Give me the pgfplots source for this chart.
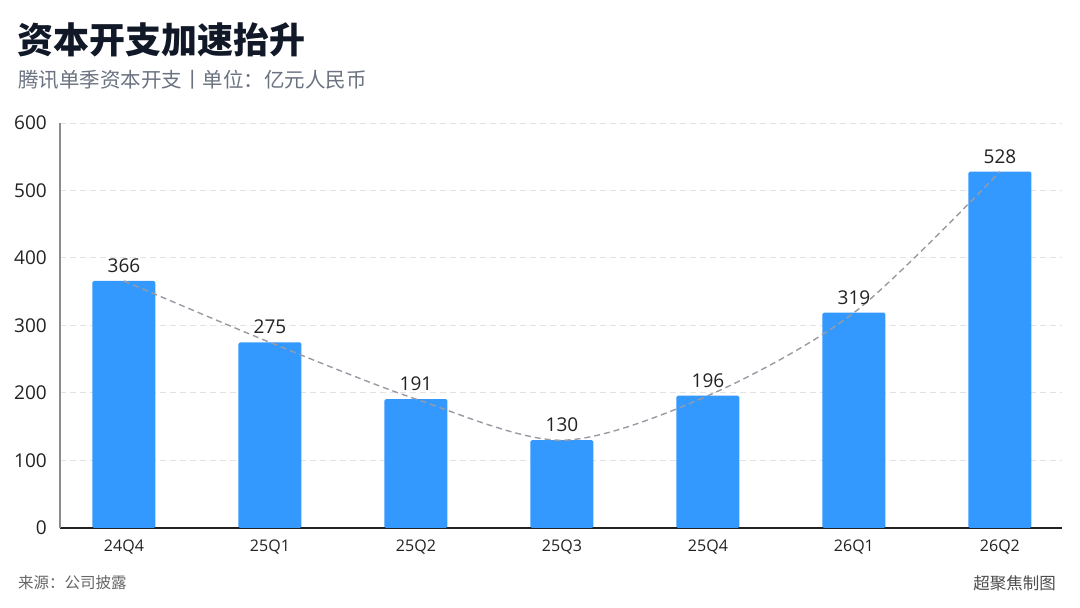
\documentclass[border=0pt]{standalone}
\usepackage{fontspec}
\setmainfont{Open Sans}
\newfontfamily\cjk{Noto Sans CJK SC}
\usepackage{pgfplots}
\pgfplotsset{compat=1.18}
\definecolor{barc}{HTML}{3399FF}
\definecolor{titlec}{HTML}{111827}
\definecolor{subc}{HTML}{6B7280}
\definecolor{footc}{HTML}{666666}
\definecolor{gridc}{HTML}{E3E3E3}
\definecolor{dashc}{HTML}{9A9AA4}
\definecolor{txtc}{HTML}{222222}
\begin{document}
\begin{tikzpicture}
\path[use as bounding box, fill=white] (0,0) rectangle (1080pt,608pt);
\node[anchor=west, text=titlec, font=\cjk\bfseries\fontsize{36}{40}\selectfont, inner sep=0] at (17pt,568pt) {资本开支加速抬升};
\node[anchor=west, text=subc, font=\cjk\fontsize{20.5}{24}\selectfont, inner sep=0] at (18pt,528pt) {腾讯单季资本开支丨单位：亿元人民币};
\node[anchor=west, text=footc, font=\cjk\fontsize{15.5}{18}\selectfont, inner sep=0] at (18pt,25pt) {来源：公司披露};
\node[anchor=east, text=txtc!80, font=\cjk\fontsize{16.5}{18}\selectfont, inner sep=0] at (1056pt,25pt) {超聚焦制图};
\begin{axis}[
  at={(60pt,80pt)}, anchor=south west,
  scale only axis, width=1002pt, height=405pt,
  xmin=-0.438, xmax=6.425, ymin=0, ymax=600,
  axis x line=bottom, axis y line=left,
  x axis line style={-, draw=txtc, line width=1.5pt},
  y axis line style={-, draw=gray!90, line width=1.3pt},
  major tick length=0pt,
  ytick={0,100,...,600},
  xtick={0,...,6},
  xticklabels={24Q4,25Q1,25Q2,25Q3,25Q4,26Q1,26Q2},
  ymajorgrids,
  grid style={draw=gridc, line width=1pt, dash pattern=on 6pt off 4pt},
  /pgf/number format/assume math mode=true,
  yticklabel style={font=\fontsize{19}{22}\selectfont, text=txtc, inner sep=0pt, xshift=-13pt},
  xticklabel style={font=\fontsize{16}{18}\selectfont, text=txtc, inner sep=0pt, yshift=-12pt},
  clip=false,
]
\addplot[ybar, bar width=63pt, fill=barc, draw=none, rounded corners=1.5pt,
  nodes near coords,
  nodes near coords style={font=\fontsize{19}{22}\selectfont, text=txtc, inner sep=0pt, anchor=south, yshift=8pt}]
  coordinates {(0,366) (1,275) (2,191) (3,130) (4,196) (5,319) (6,528)};
\addplot[smooth, no markers, draw=dashc, line width=1.4pt, dash pattern=on 6pt off 4pt]
  coordinates {(0,366) (1,275) (2,191) (3,130) (4,196) (5,319) (6,528)};
\end{axis}
\end{tikzpicture}
\end{document}
